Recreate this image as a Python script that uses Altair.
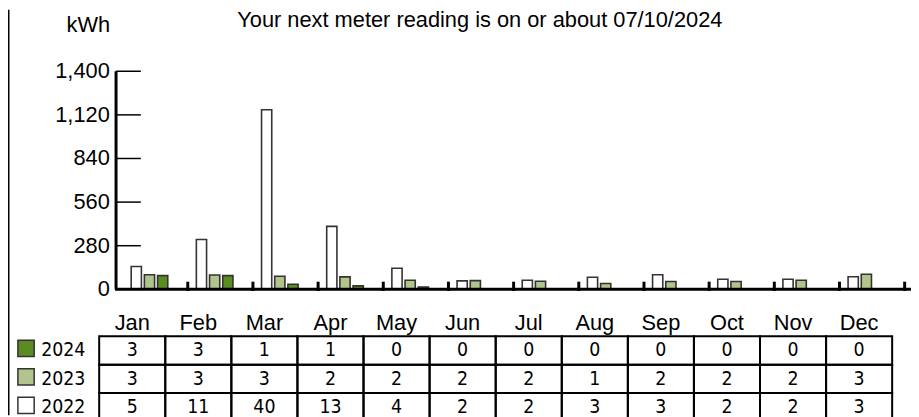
import altair as alt
import pandas as pd

# ---------------- data ----------------
months = ["Jan", "Feb", "Mar", "Apr", "May", "Jun", "Jul", "Aug", "Sep", "Oct", "Nov", "Dec"]
years = ["2022", "2023", "2024"]

# monthly consumption shown as bars (kWh)
kwh_2022 = [146, 320, 1153, 404, 135, 54, 58, 78, 94, 65, 65, 81]
kwh_2023 = [94, 92, 84, 80, 58, 56, 52, 37, 50, 50, 58, 97]
kwh_2024 = [88, 88, 33, 22, 14, 0, 0, 0, 0, 0, 0, 0]

# values shown in the table
table_2024 = [3, 3, 1, 1, 0, 0, 0, 0, 0, 0, 0, 0]
table_2023 = [3, 3, 3, 2, 2, 2, 2, 1, 2, 2, 2, 3]
table_2022 = [5, 11, 40, 13, 4, 2, 2, 3, 3, 2, 2, 3]

y_ticks = [0, 280, 560, 840, 1120, 1400]

title_text = "Your next meter reading is on or about 07/10/2024"
unit_text = "kWh"

# ---------------- tables built from the lists ----------------
bar_rows = []
for k, (yr, vals) in enumerate(zip(years, [kwh_2022, kwh_2023, kwh_2024])):
    for mi, (m, v) in enumerate(zip(months, vals)):
        bar_rows.append({"month": m, "mi": mi, "year": yr, "k": k, "kwh": v})
bars_df = pd.DataFrame(bar_rows)

tab_rows = []
for yr, vals in zip(["2024", "2023", "2022"], [table_2024, table_2023, table_2022]):
    for m, v in zip(months, vals):
        tab_rows.append({"month": m, "year": yr, "val": str(v)})
tab_df = pd.DataFrame(tab_rows)

ticks_df = pd.DataFrame({"v": y_ticks})
span_df = pd.DataFrame({"lo": [min(y_ticks)], "hi": [max(y_ticks)]})
bounds_df = pd.DataFrame({"b": list(range(1, len(months) + 1))})
zero_df = pd.DataFrame({"v": [0]})
months_df = pd.DataFrame({"month": months})
legend_df = pd.DataFrame({"year": ["2024", "2023", "2022"]})
one_df = pd.DataFrame({"t": [title_text], "u": [unit_text]})

# ---------------- styles ----------------
FONT = "Liberation Sans, Arial, sans-serif"
NARROW = "Liberation Sans Narrow, Arial Narrow, DejaVu Sans Condensed, sans-serif"
FS = 22
FSN = 19.5
COLORS = ["#ffffff", "#b0c48c", "#5b8c1f"]
STROKE = "#333333"

W, H = 911, 409

xbar = alt.Scale(domain=[0, 12], range=[115.6, 904.6], nice=False, zero=False)
ybar = alt.Scale(domain=[0, 1400], range=[282, 62], nice=False, zero=False)
xtab = alt.Scale(domain=months, range=[92, 892], paddingInner=0, paddingOuter=0)
ytab = alt.Scale(domain=["2024", "2023", "2022"], range=[329.3, 415.4], paddingInner=0, paddingOuter=0)
color = alt.Color("year:N", scale=alt.Scale(domain=years, range=COLORS), legend=None)

# ---------------- layers ----------------
bars = alt.Chart(bars_df).transform_filter("datum.kwh > 0").transform_calculate(
    x0="datum.mi + 0.132 + datum.k * 0.2023",
    x1="datum.mi + 0.132 + datum.k * 0.2023 + 0.1567",
    z="0",
).mark_rect(stroke=STROKE, strokeWidth=1.6).encode(
    x=alt.X("x0:Q", scale=xbar, axis=None),
    x2="x1:Q",
    y=alt.Y("kwh:Q", scale=ybar, axis=None),
    y2="z:Q",
    color=color,
)

y_domain = alt.Chart(span_df).mark_rule(color="black", strokeWidth=3).encode(
    y=alt.Y("lo:Q", scale=ybar, axis=None),
    y2="hi:Q",
    x=alt.value(109),
)

ytick_rules = alt.Chart(ticks_df).mark_rule(color="black", strokeWidth=1.5).encode(
    y=alt.Y("v:Q", scale=ybar, axis=None),
    x=alt.value(109),
    x2=alt.value(134),
)

ytick_labels = alt.Chart(ticks_df).mark_text(
    font=FONT, fontSize=FS, color="black", align="right", baseline="middle"
).encode(
    y=alt.Y("v:Q", scale=ybar, axis=None),
    x=alt.value(102.7),
    text=alt.Text("v:Q", format=",d"),
)

baseline = alt.Chart(zero_df).mark_rule(color="black", strokeWidth=3).encode(
    y=alt.Y("v:Q", scale=ybar, axis=None),
    x=alt.value(108),
    x2=alt.value(W),
)

month_ticks = alt.Chart(bounds_df).mark_rule(color="black", strokeWidth=3).encode(
    x=alt.X("b:Q", scale=xbar, axis=None),
    y=alt.value(274.3),
    y2=alt.value(283.7),
)

header = alt.Chart(months_df).mark_text(font=FONT, fontSize=FS, color="black", baseline="alphabetic").encode(
    x=alt.X("month:N", scale=xtab, axis=None),
    y=alt.value(323),
    text="month:N",
)

cells = alt.Chart(tab_df).mark_rect(fill="white", fillOpacity=0, stroke="black", strokeWidth=2).encode(
    x=alt.X("month:N", scale=xtab, axis=None),
    y=alt.Y("year:N", scale=ytab, axis=None),
)

cell_text = alt.Chart(tab_df).mark_text(font=NARROW, fontSize=FSN, color="black", baseline="middle").encode(
    x=alt.X("month:N", scale=xtab, axis=None),
    y=alt.Y("year:N", scale=ytab, axis=None),
    text="val:N",
)

legend_sw = alt.Chart(legend_df).mark_square(size=270, opacity=1, stroke=STROKE, strokeWidth=1.5).encode(
    x=alt.value(18.2),
    y=alt.Y("year:N", scale=ytab, axis=None),
    yOffset=alt.value(-2),
    color=color,
)

legend_txt = alt.Chart(legend_df).mark_text(font=NARROW, fontSize=FSN, color="black", align="left", baseline="middle").encode(
    x=alt.value(33.5),
    y=alt.Y("year:N", scale=ytab, axis=None),
    text="year:N",
)

title = alt.Chart(one_df).mark_text(font=FONT, fontSize=FS, color="black", align="center", baseline="alphabetic").encode(
    x=alt.value(476), y=alt.value(17), text="t:N"
)

unit = alt.Chart(one_df).mark_text(font=FONT, fontSize=FS, color="black", align="right", baseline="alphabetic").encode(
    x=alt.value(103), y=alt.value(22.7), text="u:N"
)

frame = alt.Chart(one_df).mark_rule(color="black", strokeWidth=1.5).encode(
    x=alt.value(0.75), y=alt.value(0), y2=alt.value(H)
)

chart = alt.layer(
    frame, bars, y_domain, ytick_rules, ytick_labels, baseline, month_ticks,
    cells, header, cell_text, legend_sw, legend_txt, title, unit,
).resolve_scale(x="independent", y="independent", color="shared").properties(
    width=W, height=H, autosize=alt.AutoSizeParams(type="none"), padding=0,
).configure_view(stroke=None)

chart.save("out.html", embed_options={"renderer": "svg", "actions": False})
